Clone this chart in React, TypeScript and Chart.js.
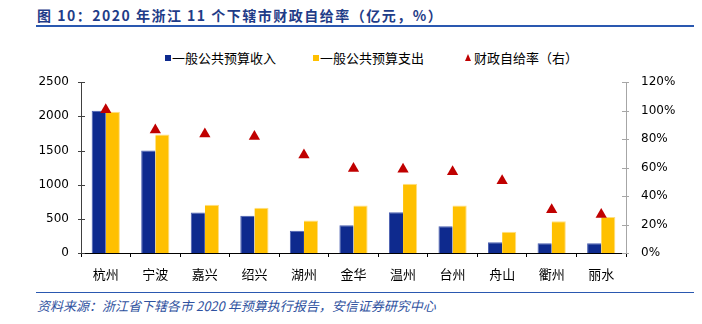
import React, { useEffect, useRef } from 'react';
import { Chart, registerables } from 'chart.js';
Chart.register(...registerables);

const categories = ['杭州', '宁波', '嘉兴', '绍兴', '湖州', '金华', '温州', '台州', '舟山', '衢州', '丽水'];
const revenue = [2083, 1500, 593, 546, 324, 407, 597, 393, 157, 143, 143];
const expenditure = [2069, 1736, 708, 662, 477, 694, 1014, 694, 310, 463, 528];
const selfSufficiency = [100.7, 86.5, 83.6, 81.8, 68.8, 59.3, 58.9, 57.0, 50.7, 30.3, 27.0];

const seriesNames = ['一般公共预算收入', '一般公共预算支出', '财政自给率（右）'];
const title = '图 10：2020 年浙江 11 个下辖市财政自给率（亿元，%）';
const source = '资料来源：浙江省下辖各市 2020 年预算执行报告，安信证券研究中心';

const BLUE = '#0E2A8E';
const YELLOW = '#FFC000';
const RED = '#C00000';
const CJK = "'Noto Sans CJK SC', 'Noto Sans', sans-serif";
const NUM = "'DejaVu Sans', 'Liberation Sans', sans-serif";

const crossTicks = {
  id: 'crossTicks',
  afterDraw(chart: any) {
    const ctx = chart.ctx;
    const y = chart.scales.y;
    const y1 = chart.scales.y1;
    ctx.save();
    ctx.lineWidth = 1;
    ctx.strokeStyle = '#404040';
    y.ticks.forEach((t: any) => {
      const py = Math.round(y.getPixelForValue(t.value)) + 0.5;
      ctx.beginPath();
      ctx.moveTo(y.right - 3, py);
      ctx.lineTo(y.right + 4, py);
      ctx.stroke();
    });
    ctx.strokeStyle = '#A6A6A6';
    y1.ticks.forEach((t: any) => {
      const py = Math.round(y1.getPixelForValue(t.value)) + 0.5;
      ctx.beginPath();
      ctx.moveTo(y1.left - 4, py);
      ctx.lineTo(y1.left + 3, py);
      ctx.stroke();
    });
    ctx.restore();
  },
};

export default function App() {
  const ref = useRef<HTMLCanvasElement>(null);
  useEffect(() => {
    document.body.style.margin = '0';
    const chart = new Chart(ref.current as HTMLCanvasElement, {
      type: 'bar',
      data: {
        labels: categories,
        datasets: [
          {
            label: seriesNames[0],
            data: revenue,
            backgroundColor: BLUE,
            borderColor: '#4A5FB0',
            borderWidth: { left: 1, top: 1, right: 0, bottom: 0 },
            yAxisID: 'y',
            order: 2,
          },
          {
            label: seriesNames[1],
            data: expenditure,
            backgroundColor: YELLOW,
            borderColor: '#FFDF80',
            borderWidth: { left: 0, top: 1, right: 1, bottom: 0 },
            yAxisID: 'y',
            order: 2,
          },
          {
            type: 'line',
            label: seriesNames[2],
            data: selfSufficiency,
            showLine: false,
            pointStyle: 'triangle',
            pointRadius: 6.5,
            pointBackgroundColor: RED,
            pointBorderColor: RED,
            pointBorderWidth: 0,
            yAxisID: 'y1',
            order: 1,
          } as any,
        ],
      },
      options: {
        responsive: false,
        animation: false,
        devicePixelRatio: 1,
        layout: { padding: { top: 13, left: 0, right: 0, bottom: 0 } },
        plugins: {
          legend: { display: false },
          tooltip: { enabled: false },
          title: { display: false },
        },
        datasets: { bar: { categoryPercentage: 0.57, barPercentage: 1.0 } },
        scales: {
          x: {
            grid: {
              display: true,
              drawOnChartArea: false,
              drawTicks: true,
              tickLength: 4,
              offset: true,
              color: '#000',
            },
            border: { display: true, color: '#000', width: 1 },
            ticks: { color: '#000', padding: 9, font: { family: CJK, size: 13 }, maxRotation: 0 },
            afterFit: (s: any) => { s.height = 37; },
          },
          y: {
            position: 'left',
            min: 0,
            max: 2500,
            grid: { display: false, drawTicks: false },
            border: { display: true, color: '#404040', width: 1 },
            ticks: {
              stepSize: 500,
              color: '#000',
              padding: 12,
              font: { family: NUM, size: 12 },
              callback: (v: any) => String(v),
            },
            afterFit: (s: any) => { s.width = 81; },
          },
          y1: {
            position: 'right',
            min: 0,
            max: 120,
            grid: { display: false, drawTicks: false },
            border: { display: true, color: '#A6A6A6', width: 1 },
            ticks: {
              stepSize: 20,
              color: '#000',
              padding: 15,
              font: { family: NUM, size: 12 },
              callback: (v: any) => v + '%',
            },
            afterFit: (s: any) => { s.width = 76; },
          },
        },
      },
      plugins: [crossTicks],
    });
    return () => chart.destroy();
  }, []);

  const legendText: React.CSSProperties = {
    position: 'absolute',
    top: 49,
    fontFamily: CJK,
    fontSize: 13,
    lineHeight: '17px',
    color: '#000',
    whiteSpace: 'nowrap',
  };

  return (
    <div style={{ position: 'relative', width: 702, height: 324, background: '#fff', overflow: 'hidden' }}>
      <div
        style={{
          position: 'absolute',
          left: 37,
          top: 5,
          fontFamily: CJK,
          fontWeight: 'bold',
          fontSize: 14,
          lineHeight: '20px',
          letterSpacing: '1.5px',
          color: '#1F3C88',
          whiteSpace: 'nowrap',
        }}
      >
        {title}
      </div>
      <div style={{ position: 'absolute', left: 36, top: 25, width: 658, height: 2, background: '#2A58B0' }} />

      <div style={{ position: 'absolute', left: 165, top: 55, width: 6, height: 6, background: BLUE }} />
      <div style={{ ...legendText, left: 172 }}>{seriesNames[0]}</div>
      <div style={{ position: 'absolute', left: 313, top: 55, width: 6, height: 6, background: YELLOW }} />
      <div style={{ ...legendText, left: 320 }}>{seriesNames[1]}</div>
      <div
        style={{
          position: 'absolute',
          left: 465,
          top: 54,
          width: 0,
          height: 0,
          borderLeft: '3.5px solid transparent',
          borderRight: '3.5px solid transparent',
          borderBottom: `7px solid ${RED}`,
        }}
      />
      <div style={{ ...legendText, left: 474 }}>{seriesNames[2]}</div>

      <canvas ref={ref} width={702} height={230} style={{ position: 'absolute', left: 0, top: 60, width: 702, height: 230 }} />

      <div style={{ position: 'absolute', left: 36, top: 292, width: 658, height: 1, background: '#2A58B0' }} />
      <div
        style={{
          position: 'absolute',
          left: 37,
          top: 297,
          fontFamily: CJK,
          fontStyle: 'italic',
          fontSize: 13,
          lineHeight: '17px',
          color: '#2F52A0',
          whiteSpace: 'nowrap',
        }}
      >
        {source}
      </div>
    </div>
  );
}
